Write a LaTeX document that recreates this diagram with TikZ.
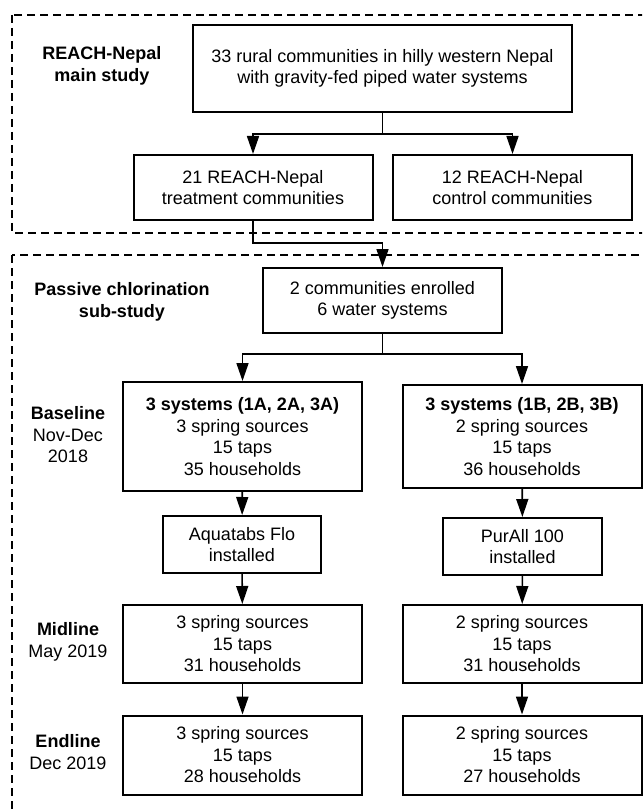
\documentclass[tikz,border=0pt]{standalone}
\usepackage{fontspec}
\setmainfont{Liberation Sans}
\usetikzlibrary{arrows.meta}
\tikzset{
    box/.style = {
        draw,
        line width = 2pt,
        align = center,
        inner sep = 2pt,
        minimum width = 239pt,
    },
    stage/.style = {
        align = center,
    },
    arr/.style = {
        -{Triangle[length=18pt,width=12pt]},
        line width = 1.6pt,
    },
    frame/.style = {
        draw,
        line width = 1.6pt,
        dash pattern = on 8pt off 5pt,
    }
}

\begin{document}
\begin{tikzpicture}[x=1pt,y=-1pt,font=\fontsize{18}{21.5}\selectfont]
    \useasboundingbox (0,0) rectangle (642,810);
    \begin{scope}
        \clip (0,0) rectangle (642,810);
        \draw[frame] (12,15) rectangle (670,233);
        \draw[frame] (12,255) rectangle (670,840);
    \end{scope}

    % main study
    \node[stage,font=\fontsize{18}{21.5}\selectfont\bfseries] (MainLbl) at (102,66) {REACH-Nepal\\main study};
    \node[box,minimum width=379pt,minimum height=87pt] (Rural) at (382.5,68.5) {33 rural communities in hilly western Nepal\\with gravity-fed piped water systems};
    \node[box,minimum height=65pt] (Treat) at (253,187.5) {21 REACH-Nepal\\treatment communities};
    \node[box,minimum height=65pt] (Ctrl) at (512.5,187.5) {12 REACH-Nepal\\control communities};

    % sub-study
    \node[stage,font=\fontsize{18}{21.5}\selectfont\bfseries] (SubLbl) at (122,302) {Passive chlorination\\sub-study};
    \node[box,minimum height=65pt] (Enrol) at (382.5,300.5) {2 communities enrolled\\6 water systems};

    \node[stage] (BaseLbl) at (68,435) {\textbf{Baseline}\\Nov-Dec\\2018};
    \node[box,minimum height=109pt] (SysA) at (242.5,436.5) {\textbf{3 systems (1A, 2A, 3A)}\\3 spring sources\\15 taps\\35 households};
    \node[box,minimum height=103pt] (SysB) at (522,436.5) {\textbf{3 systems (1B, 2B, 3B)}\\2 spring sources\\15 taps\\36 households};

    \node[box,minimum width=158pt,minimum height=57pt] (Aqua) at (242,544.5) {Aquatabs Flo\\installed};
    \node[box,minimum width=159pt,minimum height=57pt] (PurAll) at (522.5,546.5) {PurAll 100\\installed};

    \node[stage] (MidLbl) at (68,642) {\textbf{Midline}\\May 2019};
    \node[box,minimum height=78pt] (MidA) at (242.5,644) {3 spring sources\\15 taps\\31 households};
    \node[box,minimum height=78pt] (MidB) at (522,644) {2 spring sources\\15 taps\\31 households};

    \node[stage] (EndLbl) at (68,752) {\textbf{Endline}\\Dec 2019};
    \node[box,minimum height=79pt] (EndA) at (242.5,755) {3 spring sources\\15 taps\\28 households};
    \node[box,minimum height=79pt] (EndB) at (522,755) {2 spring sources\\15 taps\\27 households};

    \coordinate (SplitMain) at (382.5,134);
    \coordinate (BendTreat) at (253,243);
    \coordinate (SplitSub) at (382.5,354);

    \draw[line width=1.6pt] (Rural) to (SplitMain);
    \draw[arr] (SplitMain) -| (Treat);
    \draw[arr] (SplitMain) -| (Ctrl);
    \draw[arr] (Treat.south) -- (BendTreat) -| (Enrol);

    \draw[line width=1.6pt] (Enrol) to (SplitSub);
    \draw[arr] (SplitSub) -| (SysA);
    \draw[arr] (SplitSub) -| (SysB);

    \draw[arr] (SysA) to (Aqua);
    \draw[arr] (Aqua) to (MidA);
    \draw[arr] (MidA) to (EndA);
    \draw[arr] (SysB) to (PurAll);
    \draw[arr] (PurAll) to (MidB);
    \draw[arr] (MidB) to (EndB);
\end{tikzpicture}
\end{document}
